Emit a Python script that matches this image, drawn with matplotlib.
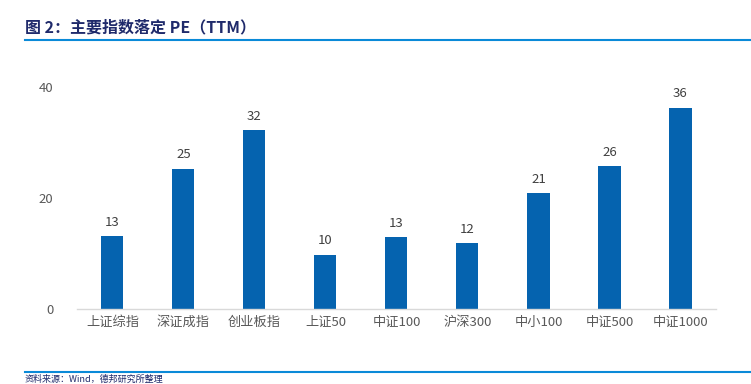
import matplotlib
matplotlib.use("Agg")
import matplotlib.pyplot as plt
from matplotlib.lines import Line2D

plt.rcParams['font.family'] = ['Noto Sans CJK SC', 'DejaVu Sans']

categories = ["上证综指", "深证成指", "创业板指", "上证50", "中证100", "沪深300", "中小100", "中证500", "中证1000"]
values = [13.2, 25.3, 32.3, 9.8, 13.0, 11.9, 20.9, 25.8, 36.3]
labels = ["13", "25", "32", "10", "13", "12", "21", "26", "36"]
yticks = [0, 20, 40]

fig = plt.figure(figsize=(7.51, 3.84), dpi=100)
ax = fig.add_axes([0.1025, 0.1953, 0.8509, 0.5781])
x = range(len(categories))
ax.bar(x, values, width=0.31, color="#0563AF")
for xi, v, l in zip(x, values, labels):
    ax.text(xi, v + 1.3, l, ha="center", va="bottom", fontsize=9.5, color="#404040", clip_on=False)
ax.set_xlim(-0.5, len(categories) - 0.5)
ax.set_ylim(0, 40)
ax.set_yticks(yticks)
ax.set_xticks(list(x))
ax.set_xticklabels(categories)
ax.tick_params(axis="both", length=0, labelsize=9.5, labelcolor="#595959")
ax.tick_params(axis="y", pad=17)
ax.tick_params(axis="x", pad=5)
for s in ["top", "right", "left"]:
    ax.spines[s].set_visible(False)
ax.spines["bottom"].set_color("#D9D9D9")
ax.spines["bottom"].set_linewidth(1.0)

fig.text(25 / 751, 1 - 27 / 384, "图 2：主要指数落定 PE（TTM）", fontsize=11.5, fontweight="bold",
         color="#1F2A6B", va="center", ha="left")
fig.add_artist(Line2D([25 / 751, 1], [1 - 40 / 384] * 2, color="#0A8AD8", lw=1.5))
fig.add_artist(Line2D([25 / 751, 1], [1 - 372 / 384] * 2, color="#0A8AD8", lw=1.5))
fig.text(25 / 751, 1 - 379 / 384, "资料来源：Wind，德邦研究所整理", fontsize=6.5, color="#1F2A6B",
         va="center", ha="left")

fig.savefig("out.png", dpi=100)
